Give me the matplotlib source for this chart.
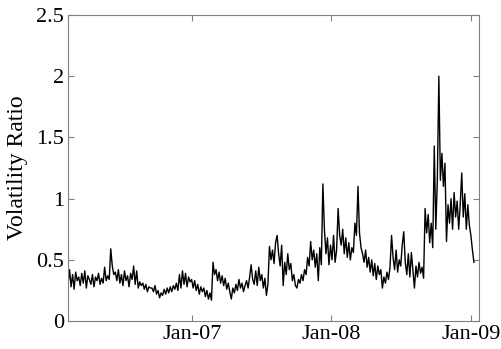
"""
Volatility ratio, Feb 2006 - Jan 2009 (MATLAB-style line chart).
"""
import matplotlib
matplotlib.use("Agg")
import matplotlib.pyplot as plt
import matplotlib.dates as mdates
import pandas as pd

# values, one every 4 days from 2006-02-10
ratio = [
    0.30, 0.42, 0.28, 0.38, 0.26, 0.40, 0.33, 0.36,
    0.29, 0.39, 0.31, 0.41, 0.27, 0.37, 0.34,
    0.30, 0.38, 0.28, 0.36, 0.33, 0.39, 0.30,
    0.35, 0.31, 0.44, 0.33, 0.37, 0.34,
    0.59,
    0.45, 0.38, 0.40, 0.33, 0.42, 0.31,
    0.38, 0.29, 0.41, 0.33, 0.37, 0.28, 0.39,
    0.34, 0.45, 0.30, 0.41, 0.27, 0.32,
    0.29, 0.31, 0.26, 0.30, 0.24, 0.28, 0.27,
    0.27, 0.24, 0.29, 0.22, 0.25, 0.19, 0.23,
    0.21, 0.26, 0.22, 0.27, 0.23, 0.28, 0.24,
    0.29, 0.26, 0.31, 0.25, 0.38, 0.27, 0.41,
    0.30, 0.39, 0.28, 0.36, 0.32, 0.34,
    0.27, 0.33, 0.25, 0.30, 0.22, 0.28, 0.24,
    0.27, 0.20, 0.25, 0.18, 0.23, 0.17,
    0.48,
    0.38, 0.42, 0.33, 0.40, 0.31, 0.37,
    0.29, 0.35, 0.26, 0.31, 0.24, 0.18,
    0.27, 0.23, 0.30, 0.25, 0.34, 0.27,
    0.31, 0.24, 0.29, 0.33, 0.27, 0.36, 0.46,
    0.34, 0.30, 0.41, 0.29, 0.44, 0.33,
    0.38, 0.27, 0.35, 0.21, 0.30,
    0.61,
    0.50, 0.58, 0.47, 0.64, 0.70,
    0.55, 0.45, 0.62, 0.29, 0.48, 0.38,
    0.55, 0.42, 0.47, 0.33, 0.38, 0.29,
    0.27, 0.34, 0.31, 0.38, 0.33, 0.42,
    0.38, 0.52, 0.45, 0.65, 0.50,
    0.58, 0.44, 0.55, 0.33, 0.60, 0.46,
    1.12,
    0.75, 0.55, 0.68, 0.46, 0.62,
    0.50, 0.70, 0.48, 0.58,
    0.92,
    0.70, 0.62, 0.75, 0.55, 0.68, 0.52,
    0.64, 0.50, 0.60, 0.56, 0.80,
    0.70, 1.10,
    0.72, 0.60, 0.55, 0.48, 0.58, 0.44, 0.52,
    0.40, 0.50, 0.37, 0.47, 0.34, 0.45, 0.38, 0.42,
    0.27, 0.36, 0.31, 0.40, 0.34, 0.44, 0.70,
    0.52, 0.42, 0.58, 0.40, 0.50, 0.45, 0.62,
    0.73,
    0.48, 0.38, 0.55, 0.36, 0.56, 0.42, 0.27,
    0.45, 0.36, 0.48, 0.39, 0.44, 0.35,
    0.92,
    0.72, 0.87, 0.64, 0.80, 0.60,
    1.43,
    0.75, 1.15,
    2.00,
    1.15, 1.37,
    1.10, 1.29,
    0.65,
    0.95, 0.80, 1.00, 0.75, 1.05, 0.85, 0.98, 0.75, 0.95,
    1.21,
    0.85, 1.04, 0.75,
    0.95, 0.78, 0.70, 0.58, 0.48,
]
dates = pd.date_range("2006-02-10", periods=len(ratio), freq="4D")

yticks = [0, 0.5, 1, 1.5, 2, 2.5]
ytick_labels = ["0", "0.5", "1", "1.5", "2", "2.5"]

plt.rcParams["font.family"] = ["Liberation Serif", "DejaVu Serif"]

fig = plt.figure(figsize=(5.02, 3.49), dpi=100)
fig.set_facecolor("white")
ax = fig.add_axes([0.1355, 0.080, 0.8185, 0.877])

ax.plot(dates, ratio, color="black", linewidth=1.0)

ax.set_xlim(pd.Timestamp("2006-02-10"), pd.Timestamp("2009-01-22"))
ax.set_ylim(0, 2.5)
ax.set_yticks(yticks)
ax.set_yticklabels(ytick_labels)
ax.xaxis.set_major_locator(mdates.YearLocator())
ax.xaxis.set_major_formatter(mdates.DateFormatter("%b-%y"))

for s in ax.spines.values():
    s.set_color("#808080")
    s.set_linewidth(0.8)
ax.tick_params(direction="in", length=4, width=0.8, color="#808080",
               top=True, right=True, labelsize=16, labelcolor="black", pad=3)
ax.set_ylabel("Volatility Ratio", fontsize=17, labelpad=6)

fig.savefig("out.png", dpi=100)
